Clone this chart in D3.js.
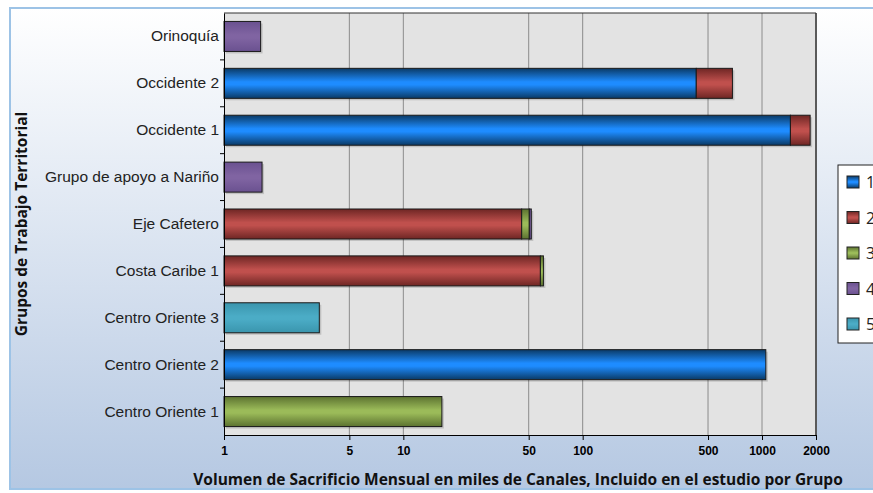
<!DOCTYPE html>
<html>
<head>
<meta charset="utf-8">
<script src="https://cdn.jsdelivr.net/npm/d3@7"></script>
<style>
  body { margin: 0; background: #fff; }
  svg { display: block; font-family: "Open Sans", "Noto Sans", sans-serif; }
</style>
</head>
<body>
<div id="chart"></div>
<script>
// categories, top to bottom
const grupos = ['Orinoquía', 'Occidente 2', 'Occidente 1', 'Grupo de apoyo a Nariño',
  'Eje Cafetero', 'Costa Caribe 1', 'Centro Oriente 3', 'Centro Oriente 2', 'Centro Oriente 1'];
const series = ['1', '2', '3', '4', '5'];
// segment values per series (miles de canales)
const serie1 = [0, 430, 1440, 0, 0, 0, 0, 1050, 0];
const serie2 = [0, 254, 415, 0, 45.7, 58.1, 0, 0, 0];
const serie3 = [0, 0, 0, 0, 4.7, 2.3, 0, 0, 16.4];
const serie4 = [1.6, 0, 0, 1.63, 1.3, 0, 0, 0, 0];
const serie5 = [0, 0, 0, 0, 0, 0, 3.4, 0, 0];
const xTicks = [1, 5, 10, 50, 100, 500, 1000, 2000];

const colors = {
  '1': ['#0a3a66', '#1e8cff'],
  '2': ['#6e2624', '#c0504d'],
  '3': ['#5c7230', '#9bbb59'],
  '4': ['#6a5190', '#8064a2'],
  '5': ['#3a95ad', '#4bacc6']
};

const W = 873, H = 493;
const plot = { left: 224, right: 816, top: 13, bottom: 435 };

const svg = d3.select('#chart').append('svg')
  .attr('width', W).attr('height', H);

const defs = svg.append('defs');
const bg = defs.append('linearGradient').attr('id', 'bg')
  .attr('x1', 0).attr('y1', 0).attr('x2', 0).attr('y2', 1);
bg.append('stop').attr('offset', '0%').attr('stop-color', '#ffffff');
bg.append('stop').attr('offset', '100%').attr('stop-color', '#b5c8e2');

series.forEach(s => {
  const g = defs.append('linearGradient').attr('id', 'g' + s)
    .attr('x1', 0).attr('y1', 0).attr('x2', 0).attr('y2', 1);
  g.append('stop').attr('offset', '0%').attr('stop-color', colors[s][0]);
  g.append('stop').attr('offset', '45%').attr('stop-color', colors[s][1]);
  g.append('stop').attr('offset', '55%').attr('stop-color', colors[s][1]);
  g.append('stop').attr('offset', '100%').attr('stop-color', colors[s][0]);
});

// chart background and frame
svg.append('rect').attr('x', 10).attr('y', 8).attr('width', W).attr('height', H - 12)
  .attr('fill', 'url(#bg)').attr('stroke', '#9dc3e6').attr('stroke-width', 2);

svg.append('rect').attr('x', plot.left).attr('y', plot.top)
  .attr('width', plot.right - plot.left).attr('height', plot.bottom - plot.top)
  .attr('fill', '#e3e3e3');

const x = d3.scaleLog().domain([1, 2000]).range([plot.left, plot.right]);
const y = d3.scaleBand().domain(grupos).range([plot.top, plot.bottom]).paddingInner(0.36).paddingOuter(0.18);

// gridlines
svg.append('g').selectAll('line').data(xTicks.slice(1))
  .enter().append('line')
  .attr('x1', d => x(d)).attr('x2', d => x(d))
  .attr('y1', plot.top).attr('y2', plot.bottom)
  .attr('stroke', d => d === 2000 ? '#5a5a5a' : '#8c8c8c')
  .attr('stroke-width', d => d === 2000 ? 2 : 1);
svg.append('line').attr('x1', plot.left).attr('x2', plot.right)
  .attr('y1', plot.top).attr('y2', plot.top).attr('stroke', '#333');

// stacked bars (cumulative, log axis starts at 1)
const data = grupos.map((g, i) => ({
  grupo: g,
  '1': serie1[i], '2': serie2[i], '3': serie3[i], '4': serie4[i], '5': serie5[i]
}));

data.forEach(d => {
  let acc = 0;
  series.forEach(s => {
    if (d[s] > 0) {
      const start = Math.max(1, acc);
      const end = acc + d[s];
      acc = end;
      svg.append('rect')
        .attr('x', x(start) + 2).attr('y', y(d.grupo) + 2)
        .attr('width', x(end) - x(start)).attr('height', y.bandwidth())
        .attr('fill', '#000').attr('opacity', 0.15);
      svg.append('rect')
        .attr('x', x(start)).attr('y', y(d.grupo))
        .attr('width', x(end) - x(start)).attr('height', y.bandwidth())
        .attr('fill', 'url(#g' + s + ')')
        .attr('stroke', '#1a1a1a').attr('stroke-width', 1);
    }
  });
});

// axes
const xAxis = svg.append('g').attr('transform', `translate(0,${plot.bottom})`)
  .call(d3.axisBottom(x).tickValues(xTicks).tickFormat(d3.format('d')).tickSize(5).tickPadding(6));
xAxis.select('.domain').attr('stroke', '#000');
xAxis.selectAll('text').attr('font-size', 12).attr('font-weight', 'bold').attr('fill', '#000');

const yAxis = svg.append('g').attr('transform', `translate(${plot.left},0)`)
  .call(d3.axisLeft(y).tickSize(0).tickPadding(5));
yAxis.select('.domain').attr('stroke', '#000');
yAxis.selectAll('text').attr('font-size', 15.5).attr('fill', '#222');

// tick marks between categories
svg.append('g').selectAll('line').data(d3.range(1, grupos.length))
  .enter().append('line')
  .attr('x1', plot.left - 4).attr('x2', plot.left)
  .attr('y1', i => plot.top + (plot.bottom - plot.top) * i / grupos.length)
  .attr('y2', i => plot.top + (plot.bottom - plot.top) * i / grupos.length)
  .attr('stroke', '#000');

// axis titles
svg.append('text')
  .attr('x', 518).attr('y', 485)
  .attr('text-anchor', 'middle').attr('font-size', 15.5).attr('font-weight', 'bold').attr('fill', '#111')
  .text('Volumen de Sacrificio Mensual en miles de Canales, Incluido en el estudio por Grupo');

svg.append('text')
  .attr('transform', 'translate(27,224) rotate(-90)')
  .attr('text-anchor', 'middle').attr('font-size', 15.5).attr('font-weight', 'bold').attr('fill', '#111')
  .text('Grupos de Trabajo Territorial');

// legend (clipped by the right edge, as in the reference)
const legend = svg.append('g');
legend.append('rect').attr('x', 838).attr('y', 165).attr('width', 60).attr('height', 178)
  .attr('fill', '#fff').attr('stroke', '#222');
series.forEach((s, i) => {
  const ly = 182 + i * 35.5;
  legend.append('rect').attr('x', 847).attr('y', ly - 6).attr('width', 12).attr('height', 12)
    .attr('fill', 'url(#g' + s + ')').attr('stroke', '#222');
  legend.append('text').attr('x', 866).attr('y', ly + 6).attr('font-size', 16).attr('fill', '#222').text(s);
});
</script>
</body>
</html>
